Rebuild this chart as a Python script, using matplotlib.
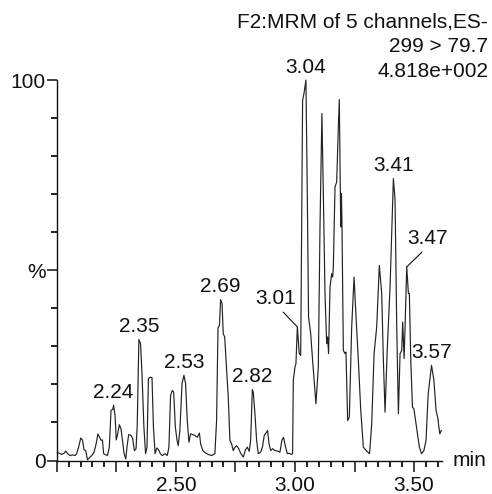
"""
Recreate the MRM chromatogram (299 > 79.7) as out.png.
Trace values were read off the reference picture point by point.
"""

import numpy as np
import matplotlib
matplotlib.use('Agg')
import matplotlib.pyplot as plt
from matplotlib.ticker import MultipleLocator, FixedLocator

# retention time (min) and relative intensity (%)
times = [
    2.003, 2.011, 2.021, 2.031, 2.038, 2.046, 2.056, 2.067, 2.077, 2.084,
    2.092, 2.101, 2.108, 2.115, 2.122, 2.129, 2.137, 2.147, 2.157, 2.165,
    2.173, 2.180, 2.187, 2.192, 2.197, 2.207, 2.213, 2.221, 2.228, 2.235,
    2.239, 2.245, 2.250, 2.256, 2.263, 2.270, 2.277, 2.283, 2.290, 2.295,
    2.302, 2.312, 2.319, 2.326, 2.333, 2.338, 2.345, 2.352, 2.358, 2.366,
    2.373, 2.379, 2.385, 2.392, 2.400, 2.406, 2.413, 2.420, 2.428, 2.435,
    2.443, 2.455, 2.464, 2.471, 2.478, 2.485, 2.491, 2.498, 2.505, 2.510,
    2.517, 2.526, 2.534, 2.541, 2.548, 2.555, 2.562, 2.571, 2.580, 2.590,
    2.599, 2.604, 2.613, 2.622, 2.636, 2.650, 2.664, 2.671, 2.677, 2.683,
    2.688, 2.694, 2.699, 2.705, 2.710, 2.720, 2.727, 2.734, 2.741, 2.748,
    2.755, 2.764, 2.772, 2.783, 2.792, 2.800, 2.808, 2.814, 2.821, 2.825,
    2.832, 2.839, 2.846, 2.856, 2.864, 2.871, 2.880, 2.885, 2.891, 2.898,
    2.906, 2.916, 2.926, 2.937, 2.945, 2.952, 2.959, 2.968, 2.976, 2.985,
    2.990, 2.993, 3.000, 3.004, 3.010, 3.018, 3.024, 3.032, 3.038, 3.046,
    3.052, 3.057, 3.066, 3.074, 3.088, 3.098, 3.105, 3.113, 3.119, 3.126,
    3.133, 3.137, 3.141, 3.147, 3.154, 3.158, 3.161, 3.168, 3.175, 3.182,
    3.186, 3.192, 3.195, 3.197, 3.203, 3.210, 3.214, 3.221, 3.228, 3.238,
    3.248, 3.257, 3.266, 3.276, 3.287, 3.299, 3.313, 3.322, 3.332, 3.343,
    3.354, 3.364, 3.371, 3.378, 3.387, 3.399, 3.413, 3.420, 3.427, 3.434,
    3.441, 3.448, 3.452, 3.458, 3.462, 3.469, 3.476, 3.480, 3.486, 3.493,
    3.499, 3.510, 3.522, 3.531, 3.541, 3.550, 3.559, 3.573, 3.583, 3.592,
    3.600, 3.603, 3.608, 3.614,
]
intensity = [
    2.1, 1.9, 1.6, 1.9, 2.5, 1.8, 1.3, 1.5, 1.3, 1.8,
    3.5, 5.9, 5.4, 2.8, 2.6, 0.2, 0.7, 1.3, 2.2, 4.2,
    7.0, 6.1, 5.3, 5.4, 1.8, 1.5, 1.3, 3.5, 13.2, 13.4,
    14.5, 11.8, 5.4, 7.0, 9.4, 8.3, 4.8, 1.8, 0.4, 3.5,
    6.8, 6.6, 5.7, 2.6, 3.1, 9.2, 31.8, 30.7, 22.8, 8.8,
    1.8, 3.5, 21.5, 21.9, 21.8, 8.8, 1.8, 3.3, 2.8, 1.8,
    1.3, 1.8, 1.3, 3.5, 17.1, 18.4, 18.0, 8.8, 5.3, 3.9,
    7.9, 20.2, 22.4, 20.2, 10.5, 4.8, 7.0, 6.8, 6.6, 6.1,
    7.2, 4.4, 2.6, 2.1, 1.6, 1.3, 1.8, 10.5, 34.9, 35.5,
    42.3, 41.2, 33.3, 32.5, 27.2, 16.7, 5.3, 4.4, 2.6, 3.5,
    3.9, 3.1, 1.9, 0.9, 2.8, 3.5, 2.4, 5.3, 18.6, 18.0,
    12.3, 5.3, 1.8, 2.2, 3.7, 6.6, 7.4, 7.9, 4.4, 2.6,
    3.1, 2.6, 2.5, 2.2, 5.3, 6.1, 3.9, 1.8, 1.9, 1.6,
    1.8, 21.1, 24.6, 25.4, 35.1, 28.1, 27.6, 94.7, 96.5, 100.0,
    68.4, 37.7, 33.3, 26.3, 14.9, 24.6, 61.4, 91.2, 70.2, 43.9,
    30.7, 32.5, 28.1, 45.6, 49.1, 48.2, 50.9, 71.9, 73.2, 87.7,
    94.9, 61.4, 70.2, 63.2, 28.9, 28.1, 28.5, 10.5, 11.4, 35.1,
    48.2, 36.8, 26.3, 13.2, 3.5, 2.6, 1.8, 9.6, 28.1, 35.1,
    51.3, 43.9, 26.3, 12.7, 28.9, 45.6, 74.1, 68.4, 35.1, 12.3,
    28.1, 28.9, 36.4, 26.8, 35.1, 50.9, 43.9, 43.9, 26.3, 14.0,
    13.6, 8.8, 3.5, 1.8, 2.6, 5.3, 17.5, 25.0, 21.1, 13.2,
    11.0, 9.2, 7.0, 7.9,
]

# labelled peaks
peak_labels = ['2.24', '2.35', '2.53', '2.69', '2.82', '3.01', '3.04', '3.41', '3.47', '3.57']
# labels that sit beside the peak with a leader line: offset of text / line end (points)
leader_labels = {'3.01': (-15.5, 13.5, -10.2, 10.7), '3.47': (15.2, 13.5, 11.0, 10.7)}

x_tick_labels = ['2.50', '3.00', '3.50']
header_lines = ['F2:MRM of 5 channels,ES-', '299 > 79.7', '4.818e+002']

FONT = 'Liberation Sans'
FS = 15
INK = '#111111'


def peak_point(t_label):
    """Return the trace maximum close to a labelled retention time."""
    t = np.asarray(times)
    y = np.asarray(intensity)
    mask = np.abs(t - t_label) <= 0.008
    idx = np.where(mask)[0][np.argmax(y[mask])]
    return t[idx], y[idx]


def main():
    plt.rcParams['font.family'] = [FONT, 'DejaVu Sans']
    fig = plt.figure(figsize=(4.92, 4.94), dpi=100)
    ax = fig.add_axes([0.1152, 0.0678, 0.7825, 0.7702])

    ax.plot(times, intensity, color='#222222', linewidth=0.85, clip_on=False)

    ax.set_xlim(2.0, 3.6156)
    ax.set_ylim(0, 100)
    for side in ('top', 'right'):
        ax.spines[side].set_visible(False)
    for side in ('left', 'bottom'):
        ax.spines[side].set_linewidth(1.0)
        ax.spines[side].set_color(INK)

    # x ticks: long every 0.25, short every 0.05, labels only at half minutes
    ax.xaxis.set_major_locator(MultipleLocator(0.25))
    ax.xaxis.set_minor_locator(MultipleLocator(0.05))
    label_vals = [float(s) for s in x_tick_labels]
    ax.xaxis.set_major_formatter(
        lambda v, pos: f'{v:.2f}' if any(abs(v - lv) < 1e-6 for lv in label_vals) else '')
    ax.tick_params(axis='x', which='major', direction='out', length=8, width=1.1,
                   color=INK, pad=3, labelsize=FS, labelcolor=INK)
    ax.tick_params(axis='x', which='minor', direction='out', length=4.5, width=1.3,
                   color=INK)

    ax.yaxis.set_major_locator(FixedLocator([0, 50, 100]))
    ax.set_yticklabels(['0', '%', '100'])
    ax.yaxis.set_minor_locator(MultipleLocator(10))
    ax.tick_params(axis='y', which='major', direction='out', length=7.5, width=1.1,
                   color=INK, pad=0.5, labelsize=FS, labelcolor=INK)
    ax.tick_params(axis='y', which='minor', direction='out', length=4.5, width=1.3,
                   color=INK)

    ax.text(1.029, 0, 'min', transform=ax.transAxes, ha='left', va='center',
            fontsize=FS, color=INK)

    # peak labels
    for lbl in peak_labels:
        pt = peak_point(float(lbl))
        if lbl in leader_labels:
            dx, dy, lx, ly = leader_labels[lbl]
            ax.annotate(lbl, xy=pt, xytext=(dx, dy), textcoords='offset points',
                        ha='center', va='bottom', fontsize=FS, color=INK,
                        annotation_clip=False)
            ax.annotate('', xy=pt, xytext=(lx, ly), textcoords='offset points',
                        arrowprops=dict(arrowstyle='-', color=INK, lw=0.8,
                                        shrinkA=0, shrinkB=0),
                        annotation_clip=False)
        else:
            ax.annotate(lbl, xy=pt, xytext=(0, 2.5), textcoords='offset points',
                        ha='center', va='bottom', fontsize=FS, color=INK,
                        annotation_clip=False)

    # header block, right aligned
    for i, line in enumerate(header_lines):
        fig.text(0.992, 0.945 - i * 0.0505, line, ha='right', va='baseline',
                 fontsize=FS, color=INK)

    fig.savefig('out.png', dpi=100)
    plt.close(fig)
    print('Saved: out.png')


if __name__ == '__main__':
    main()
